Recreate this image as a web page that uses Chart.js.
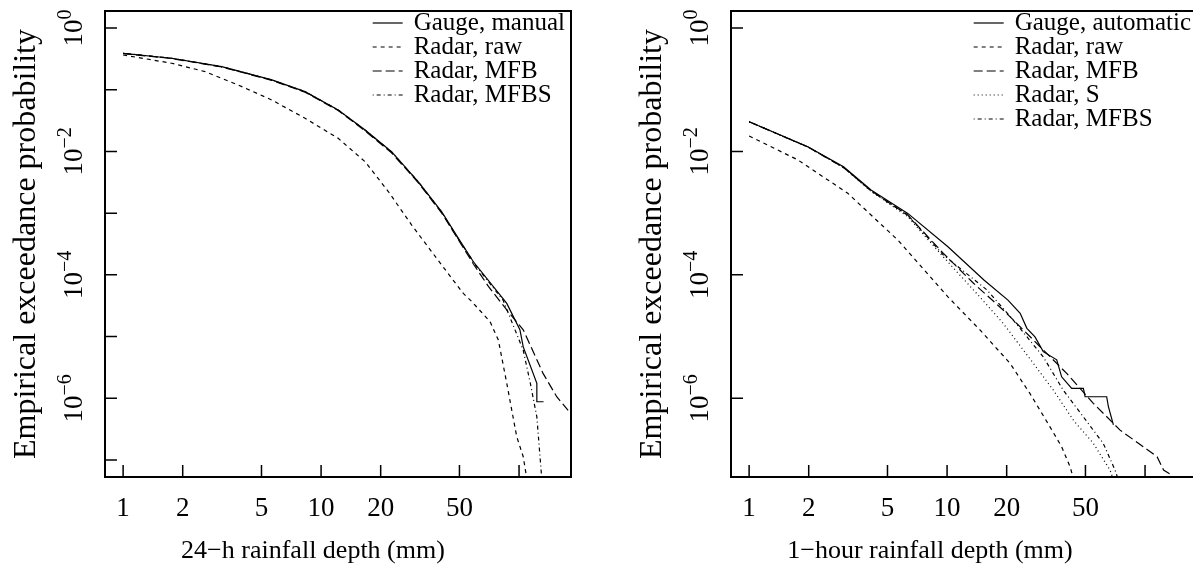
<!DOCTYPE html>
<html>
<head>
<meta charset="utf-8">
<script src="https://cdn.jsdelivr.net/npm/chart.js@4.4.1/dist/chart.umd.min.js"></script>
<style>
  html, body { margin: 0; padding: 0; background: #fff; }
  #wrap { position: relative; width: 1193px; height: 569px; overflow: hidden; }
  .panel { position: absolute; top: 0; width: 626px; height: 569px; }
</style>
</head>
<body>
<div id="wrap">
  <div class="panel" style="left:0"><canvas id="chartDaily"></canvas></div>
  <div class="panel" style="left:626px"><canvas id="chartHourly"></canvas></div>
</div>
<script>
// ---- axis ticks (shared by both panels) ----
const xTicks = [1, 2, 5, 10, 20, 50, 100];
const xTickLabels = ['1', '2', '5', '10', '20', '50', ''];
const yTicksDaily = [1, 1e-1, 1e-2, 1e-3, 1e-4, 1e-5, 1e-6, 1e-7];
const yTicksHourly = [1, 1e-2, 1e-4, 1e-6];
const yLabelExps = [0, -2, -4, -6];

// ---- 24-h panel: rainfall depth (mm) / exceedance probability ----
const dayGaugeX = [1.0, 1.76, 3.15, 5.64, 8.3, 12.2, 16.7, 22.7, 31, 40.7, 49.4, 58.8, 86.7, 101, 105, 123, 123, 133];
const dayGaugeP = [0.389, 0.323, 0.236, 0.144, 0.093, 0.047, 0.0222, 0.0099, 0.0032, 1.05e-3, 3.9e-4, 1.63e-4, 3.45e-5, 1.29e-5, 6.8e-6, 1.75e-6, 8.8e-7, 8.8e-7];
const dayRawX = [1.0, 1.76, 2.6, 3.82, 5.64, 8.3, 12.2, 16.7, 21.9, 28.7, 36.2, 45.7, 52.3, 57.7, 71.4, 78.6, 86.7, 97.3, 105, 109];
const dayRawP = [0.365, 0.268, 0.196, 0.119, 0.068, 0.0344, 0.0163, 0.0068, 2.22e-3, 6.4e-4, 2.37e-4, 8.8e-5, 5.0e-5, 3.7e-5, 1.74e-5, 8.8e-6, 1.75e-6, 2.4e-7, 1.13e-7, 5.4e-8];
const dayMfbX = [1.0, 1.76, 3.15, 5.64, 8.3, 12.2, 16.7, 22.7, 31, 40.7, 49.4, 58.8, 70, 86.7, 105, 132, 155, 177];
const dayMfbP = [0.385, 0.32, 0.233, 0.142, 0.091, 0.046, 0.0215, 0.0095, 0.0031, 1.0e-3, 3.7e-4, 1.5e-4, 6.5e-5, 2.7e-5, 1.29e-5, 2.56e-6, 1.06e-6, 6.4e-7];
const dayMfbsX = [1.0, 1.76, 3.15, 5.64, 8.3, 12.2, 16.7, 22.7, 31, 40.7, 49.4, 61.1, 83, 105, 114, 123, 130];
const dayMfbsP = [0.39, 0.323, 0.236, 0.144, 0.093, 0.047, 0.022, 0.0098, 0.0032, 1.03e-3, 3.8e-4, 1.35e-4, 3.9e-5, 6.0e-6, 1.76e-6, 5.0e-7, 5.4e-8];

// ---- 1-hour panel ----
const hrGaugeX = [1.0, 1.98, 3.0, 4.13, 6.33, 10.1, 15.4, 20.3, 23.4, 25.3, 27.8, 30.6, 35.8, 37.9, 42.6, 48.8, 49.8, 64.0, 65.3, 69.2];
const hrGaugeP = [0.0303, 0.0119, 5.65e-3, 2.37e-3, 9.9e-4, 2.85e-4, 8.2e-5, 3.9e-5, 2.38e-5, 1.36e-5, 9.9e-6, 5.7e-6, 4.2e-6, 2.23e-6, 1.45e-6, 1.45e-6, 1.06e-6, 1.06e-6, 7.3e-7, 3.7e-7];
const hrRawX = [1.0, 1.76, 3.15, 5.64, 10.1, 14.7, 20.8, 26.2, 33.1, 37.9, 41.8, 43.5];
const hrRawP = [0.0178, 7.3e-3, 2.1e-3, 3.66e-4, 4.4e-5, 1.27e-5, 3.68e-6, 1.2e-6, 3.45e-7, 1.64e-7, 7.8e-8, 5.0e-8];
const hrMfbX = [1.0, 1.98, 3.0, 4.13, 6.33, 9.58, 13.6, 19.2, 27.3, 40.2, 54.8, 74.8, 98, 115, 124, 136];
const hrMfbP = [0.0303, 0.0118, 5.5e-3, 2.3e-3, 9.3e-4, 2.23e-4, 7.3e-5, 2.7e-5, 8.8e-6, 2.53e-6, 8.3e-7, 3.05e-7, 1.64e-7, 1.13e-7, 6.9e-8, 5.7e-8];
const hrSX = [1.0, 1.98, 3.0, 4.13, 6.33, 9.58, 14.1, 19.2, 27.3, 34.4, 43.5, 54.8, 66.5, 68.5];
const hrSP = [0.0303, 0.0118, 5.5e-3, 2.25e-3, 8.8e-4, 1.95e-4, 5.0e-5, 1.64e-5, 3.67e-6, 1.36e-6, 4.4e-7, 1.86e-7, 6.9e-8, 5.3e-8];
const hrMfbsX = [1.0, 1.98, 3.0, 4.13, 6.33, 9.58, 15.9, 21.6, 30.6, 38.6, 48.8, 61.5, 70.5, 72.5];
const hrMfbsP = [0.0303, 0.0118, 5.5e-3, 2.3e-3, 9.2e-4, 2.1e-4, 5.7e-5, 1.85e-5, 4.7e-6, 1.36e-6, 5.0e-7, 1.86e-7, 6.9e-8, 5.3e-8];

const SERIF = '"Liberation Serif", "Times New Roman", serif';
const DASH = { solid: [], raw: [4, 4], mfb: [9, 4], s: [1, 3], mfbs: [1, 3, 4, 3] };

function pts(xs, ys) {
    return xs.map((x, i) => ({ x: x, y: ys[i] }));
}

function series(label, xs, ys, dash) {
    return {
        label: label,
        data: pts(xs, ys),
        showLine: true,
        borderColor: '#000',
        borderWidth: 1.2,
        borderDash: dash,
        pointRadius: 0,
        fill: false
    };
}

// draws the R-style frame, inward ticks, 10^k labels, axis titles and legend
function decorPlugin(opts) {
    return {
        id: 'rDecor',
        afterDraw(chart) {
            const ctx = chart.ctx;
            const a = chart.chartArea;
            const xs = chart.scales.x, ys = chart.scales.y;
            ctx.save();
            ctx.strokeStyle = '#000';
            ctx.fillStyle = '#000';

            // box
            ctx.lineWidth = 2;
            ctx.strokeRect(a.left, a.top, a.right - a.left, a.bottom - a.top);

            // tick marks, pointing inside
            ctx.lineWidth = 1.5;
            ctx.beginPath();
            xTicks.forEach(v => {
                const px = xs.getPixelForValue(v);
                ctx.moveTo(px, a.bottom);
                ctx.lineTo(px, a.bottom - 12);
            });
            opts.yTicks.forEach(v => {
                const py = ys.getPixelForValue(v);
                ctx.moveTo(a.left, py);
                ctx.lineTo(a.left + 12, py);
            });
            ctx.stroke();

            // y tick labels 10^k, rotated
            yLabelExps.forEach(k => {
                const py = ys.getPixelForValue(Math.pow(10, k));
                ctx.save();
                ctx.translate(a.left - 23, py);
                ctx.rotate(-Math.PI / 2);
                ctx.textAlign = 'left';
                ctx.textBaseline = 'alphabetic';
                const sup = k === 0 ? '0' : '\u2212' + (-k);
                ctx.font = '27px ' + SERIF;
                const wb = ctx.measureText('10').width;
                ctx.font = '20px ' + SERIF;
                const ws = ctx.measureText(sup).width;
                const x0 = -(wb + ws) / 2;
                ctx.font = '27px ' + SERIF;
                ctx.fillText('10', x0, 0);
                ctx.font = '20px ' + SERIF;
                ctx.fillText(sup, x0 + wb, -11);
                ctx.restore();
            });

            // axis titles
            ctx.textAlign = 'center';
            ctx.textBaseline = 'middle';
            ctx.font = '26px ' + SERIF;
            ctx.fillText(opts.xTitle, a.left + opts.xTitleOffset, 551);
            ctx.save();
            ctx.font = '32px ' + SERIF;
            ctx.translate(27, (a.top + a.bottom) / 2);
            ctx.rotate(-Math.PI / 2);
            ctx.fillText('Empirical exceedance probability', 0, 0);
            ctx.restore();

            // legend, top right inside the box
            ctx.font = '25px ' + SERIF;
            const dsets = chart.data.datasets;
            const wMax = Math.max(...dsets.map(d => ctx.measureText(d.label).width));
            const tx = a.right - 6 - wMax;
            ctx.textAlign = 'left';
            dsets.forEach((d, i) => {
                const ry = a.top + 12 + i * 24;
                ctx.fillText(d.label, tx, ry);
                ctx.lineWidth = 1.2;
                ctx.setLineDash(d.borderDash);
                ctx.beginPath();
                ctx.moveTo(tx - 41, ry);
                ctx.lineTo(tx - 11, ry);
                ctx.stroke();
                ctx.setLineDash([]);
            });
            ctx.restore();
        }
    };
}

function makeChart(id, datasets, opts) {
    const ctx = document.getElementById(id);
    return new Chart(ctx, {
        type: 'scatter',
        data: { datasets: datasets },
        options: {
            responsive: true,
            maintainAspectRatio: false,
            animation: false,
            events: [],
            layout: { padding: { top: 11, right: 55, bottom: 0, left: 0 } },
            plugins: { legend: { display: false }, tooltip: { enabled: false } },
            scales: {
                x: {
                    type: 'logarithmic',
                    min: 0.81,
                    max: 183,
                    afterBuildTicks: s => { s.ticks = xTicks.map(v => ({ value: v })); },
                    afterFit: s => { s.height = 92; },
                    grid: { display: false },
                    border: { display: false },
                    ticks: {
                        autoSkip: false,
                        maxRotation: 0,
                        padding: 8,
                        color: '#000',
                        font: { family: SERIF, size: 27 },
                        callback: (v, i) => xTickLabels[i]
                    }
                },
                y: {
                    type: 'logarithmic',
                    min: Math.pow(10, -7.275),
                    max: Math.pow(10, 0.275),
                    afterBuildTicks: s => { s.ticks = opts.yTicks.map(v => ({ value: v })); },
                    afterFit: s => { s.width = 105; },
                    grid: { display: false },
                    border: { display: false },
                    ticks: { display: false }
                }
            }
        },
        plugins: [decorPlugin(opts)]
    });
}

makeChart('chartDaily', [
    series('Gauge, manual', dayGaugeX, dayGaugeP, DASH.solid),
    series('Radar, raw', dayRawX, dayRawP, DASH.raw),
    series('Radar, MFB', dayMfbX, dayMfbP, DASH.mfb),
    series('Radar, MFBS', dayMfbsX, dayMfbsP, DASH.mfbs)
], { yTicks: yTicksDaily, xTitle: '24\u2212h rainfall depth (mm)', xTitleOffset: 208 });

makeChart('chartHourly', [
    series('Gauge, automatic', hrGaugeX, hrGaugeP, DASH.solid),
    series('Radar, raw', hrRawX, hrRawP, DASH.raw),
    series('Radar, MFB', hrMfbX, hrMfbP, DASH.mfb),
    series('Radar, S', hrSX, hrSP, DASH.s),
    series('Radar, MFBS', hrMfbsX, hrMfbsP, DASH.mfbs)
], { yTicks: yTicksHourly, xTitle: '1\u2212hour rainfall depth (mm)', xTitleOffset: 199 });
</script>
</body>
</html>
